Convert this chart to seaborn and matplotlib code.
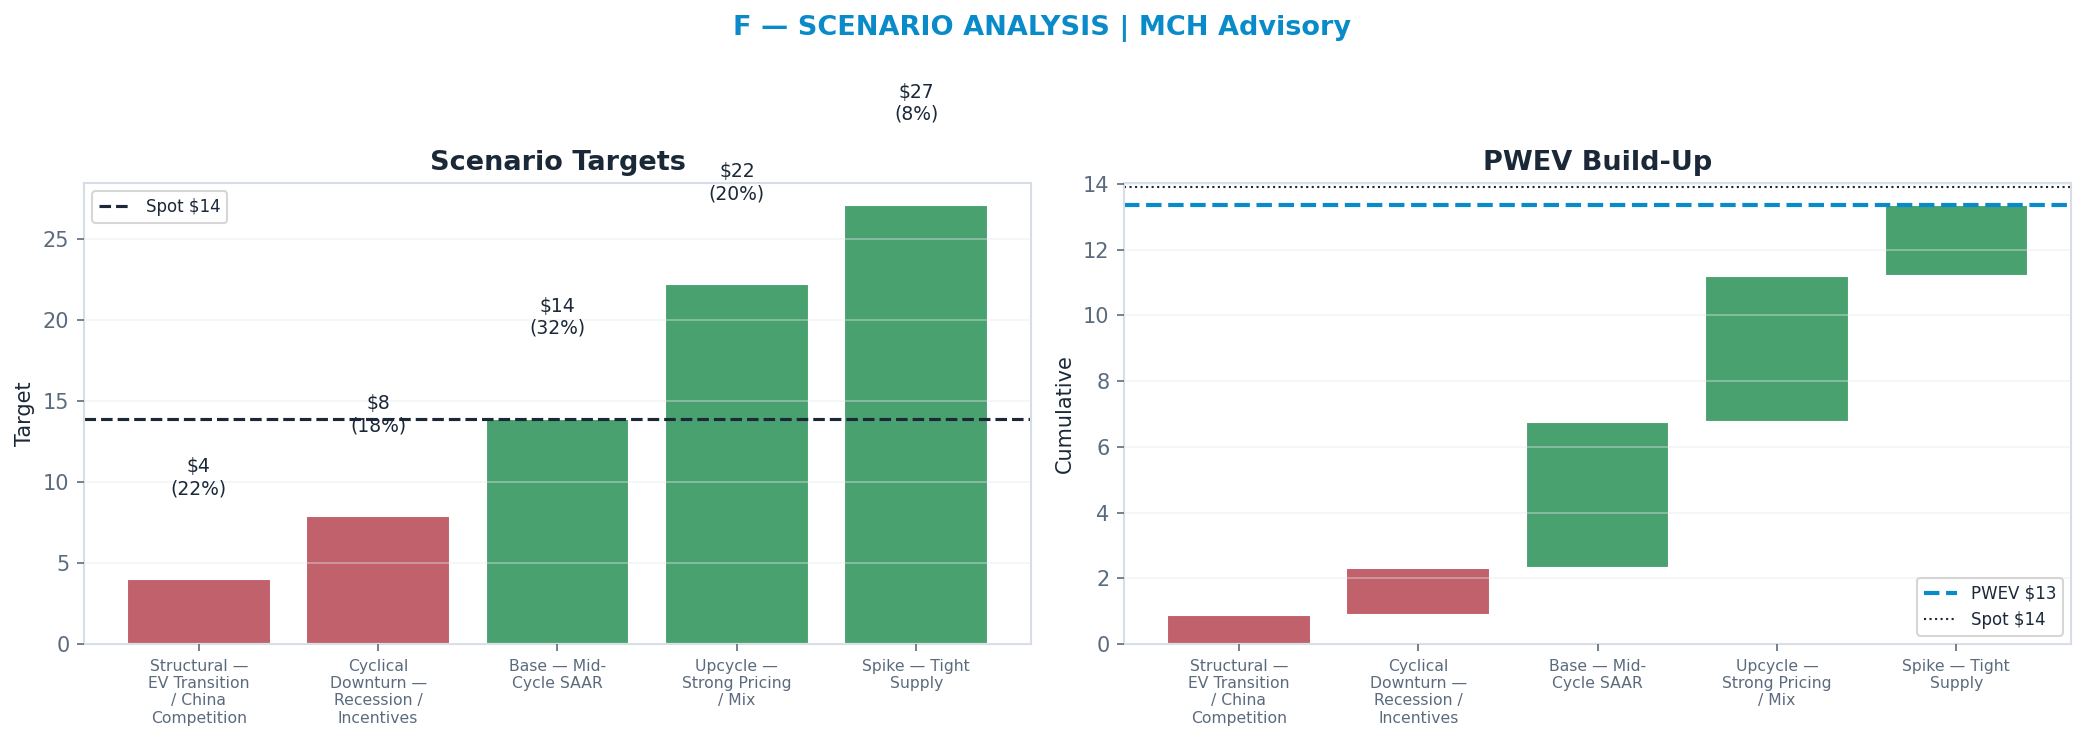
import textwrap

import matplotlib.pyplot as plt
import numpy as np
import pandas as pd
import seaborn as sns

# scenario data
scenarios = ['Structural — EV Transition / China Competition',
             'Cyclical Downturn — Recession / Incentives',
             'Base — Mid-Cycle SAAR',
             'Upcycle — Strong Pricing / Mix',
             'Spike — Tight Supply']
targets = [4.0, 7.9, 13.9, 22.2, 27.1]
probs = [0.22, 0.18, 0.32, 0.20, 0.08]
spot = 13.9

NAVY = '#1b2838'
SLATE = '#5b6b7e'
BLUE = '#0a8bc9'
RED = '#c0616b'
GREEN = '#4aa170'

sns.set_style('white')
plt.rcParams['font.family'] = ['DejaVu Sans']
plt.rcParams.update({
    'axes.edgecolor': '#d6dde7',
    'axes.linewidth': 1.0,
    'xtick.color': SLATE,
    'ytick.color': SLATE,
    'xtick.bottom': True,
    'ytick.left': True,
    'xtick.major.size': 3.5,
    'ytick.major.size': 3.5,
})

labels = [textwrap.fill(s, 14) for s in scenarios]
df = pd.DataFrame({'label': labels, 'target': targets, 'prob': probs})
df['contrib'] = df['target'] * df['prob']
df['top'] = df['contrib'].cumsum()
df['bottom'] = df['top'] - df['contrib']
pwev = df['contrib'].sum()
colors = [GREEN if t >= spot else RED for t in targets]

fig, (ax1, ax2) = plt.subplots(1, 2, figsize=(2084 / 150, 742 / 150), dpi=150)
fig.subplots_adjust(left=0.0403, right=0.9938, top=0.7534, bottom=0.132, wspace=0.0983)

# left: scenario targets
sns.barplot(data=df, x='label', y='target', hue='label', palette=colors, legend=False,
            width=0.8, saturation=1, ax=ax1)
ax1.axhline(spot, color=NAVY, linestyle='--', linewidth=1.5, label=f'Spot ${spot:.0f}')
for i, row in df.iterrows():
    ax1.text(i, row['target'] + 5, f"${row['target']:.0f}\n({row['prob']:.0%})",
             ha='center', va='bottom', fontsize=9, color=NAVY)
ax1.set_xlim(-0.64, 4.64)
ax1.set_ylim(0, df['target'].max() * 1.05)
ax1.set_title('Scenario Targets', fontsize=13, fontweight='bold', color=NAVY)
ax1.set_ylabel('Target', fontsize=10, color=NAVY)
ax1.set_xlabel('')
ax1.legend(loc='upper left', fontsize=8, labelcolor=NAVY)

# right: PWEV waterfall
x = np.arange(len(df))
ax2.bar(x, df['contrib'], bottom=df['bottom'], width=0.8, color=colors)
ax2.axhline(pwev, color=BLUE, linestyle='--', linewidth=2, label=f'PWEV ${pwev:.0f}')
ax2.axhline(spot, color=NAVY, linestyle=':', linewidth=1, label=f'Spot ${spot:.0f}')
ax2.set_xticks(x)
ax2.set_xticklabels(labels)
ax2.set_xlim(-0.64, 4.64)
ax2.set_ylim(0, pwev * 1.05)
ax2.set_title('PWEV Build-Up', fontsize=13, fontweight='bold', color=NAVY)
ax2.set_ylabel('Cumulative', fontsize=10, color=NAVY)
ax2.legend(loc='lower right', fontsize=8, labelcolor=NAVY)

for ax in (ax1, ax2):
    ax.set_axisbelow(False)
    ax.yaxis.grid(True, color='#e6e8ec', alpha=0.4, linewidth=0.9)
    ax.xaxis.grid(False)
    ax.tick_params(axis='x', labelsize=7.5)
    ax.tick_params(axis='y', labelsize=10)

fig.suptitle('F — SCENARIO ANALYSIS | MCH Advisory', fontsize=13, fontweight='bold',
             color=BLUE, y=0.98)

plt.savefig('out.png', dpi=150)
